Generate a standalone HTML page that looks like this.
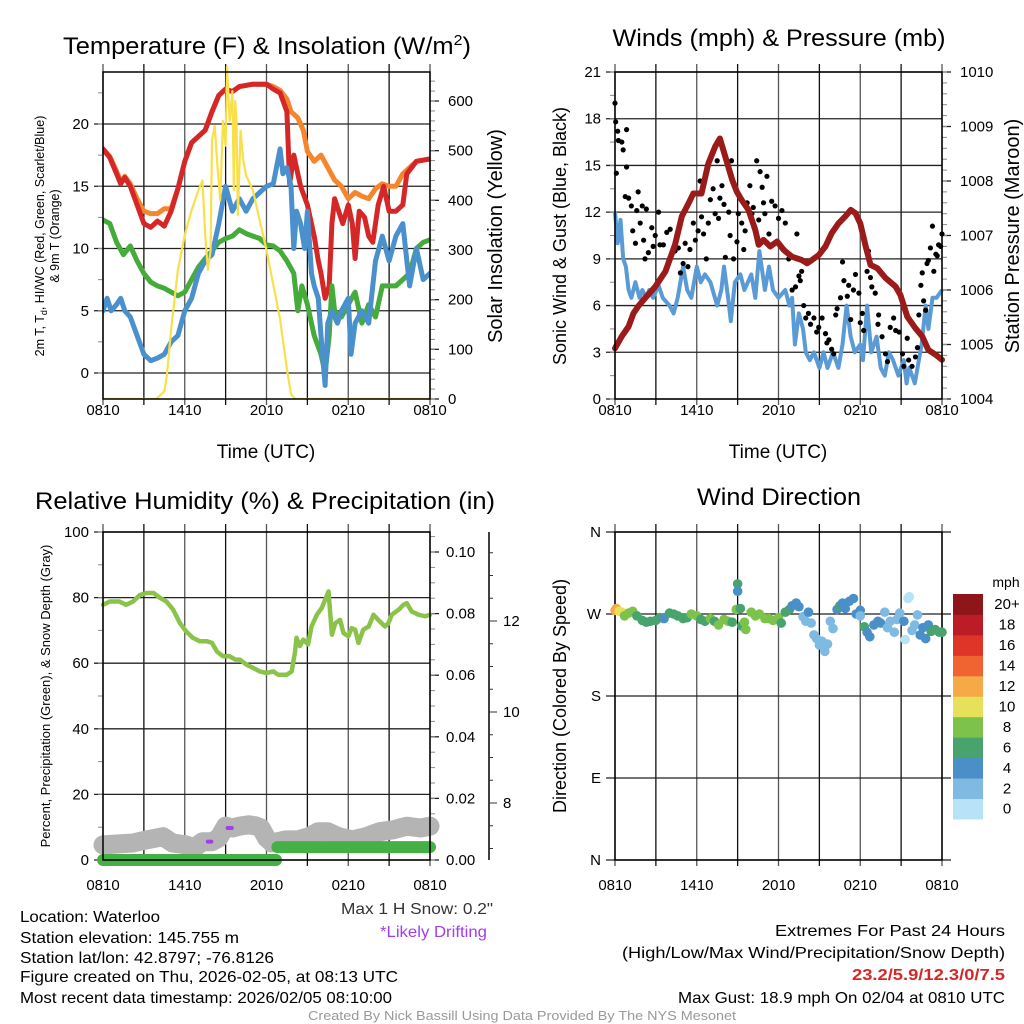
<!DOCTYPE html>
<html><head><meta charset="utf-8">
<style>
html,body{margin:0;padding:0;background:#fff;}
svg{display:block;font-family:"Liberation Sans",sans-serif;}
.narrow{font-family:"Liberation Sans Narrow","Liberation Sans",sans-serif;}
</style></head>
<body>
<svg id="chart" width="1024" height="1024" viewBox="0 0 1024 1024" xmlns="http://www.w3.org/2000/svg">
<rect x="0" y="0" width="1024" height="1024" fill="#fff"/>
<g id="layer"></g>
<!-- titles -->
<text x="267" y="54" font-size="24" text-anchor="middle" textLength="408" lengthAdjust="spacingAndGlyphs">Temperature (F) &amp; Insolation (W/m<tspan dy="-9" font-size="15">2</tspan><tspan dy="9">)</tspan></text>
<text x="779" y="46" font-size="24" text-anchor="middle" textLength="333" lengthAdjust="spacingAndGlyphs">Winds (mph) &amp; Pressure (mb)</text>
<text x="265" y="509" font-size="24" text-anchor="middle" textLength="460" lengthAdjust="spacingAndGlyphs">Relative Humidity (%) &amp; Precipitation (in)</text>
<text x="779" y="505" font-size="24" text-anchor="middle" textLength="164" lengthAdjust="spacingAndGlyphs">Wind Direction</text>
<!-- axis titles -->
<text x="266" y="458" font-size="19" text-anchor="middle">Time (UTC)</text>
<text x="778" y="458" font-size="19" text-anchor="middle">Time (UTC)</text>
<text transform="translate(44,236) rotate(-90)" font-size="12.5" text-anchor="middle">2m T, T<tspan dy="3" font-size="9">d</tspan><tspan dy="-3">, HI/WC (Red, Green, Scarlet/Blue)</tspan></text>
<text transform="translate(59,236) rotate(-90)" font-size="12.5" text-anchor="middle">&amp; 9m T (Orange)</text>
<text transform="translate(502,236) rotate(-90)" font-size="20" text-anchor="middle">Solar Insolation (Yellow)</text>
<text transform="translate(566,236) rotate(-90)" font-size="18" text-anchor="middle">Sonic Wind &amp; Gust (Blue, Black)</text>
<text transform="translate(1019,236) rotate(-90)" font-size="20" text-anchor="middle">Station Pressure (Maroon)</text>
<text transform="translate(50,696) rotate(-90)" font-size="13" text-anchor="middle">Percent, Precipitation (Green), &amp; Snow Depth (Gray)</text>
<text transform="translate(566,696) rotate(-90)" font-size="18" text-anchor="middle">Direction (Colored By Speed)</text>
<!-- info text -->
<g class="narrow" font-size="16">
<text x="20" y="922" textLength="140" lengthAdjust="spacingAndGlyphs">Location: Waterloo</text>
<text x="20" y="943" textLength="219" lengthAdjust="spacingAndGlyphs">Station elevation: 145.755 m</text>
<text x="20" y="963" textLength="254" lengthAdjust="spacingAndGlyphs">Station lat/lon: 42.8797; -76.8126</text>
<text x="20" y="982" textLength="378" lengthAdjust="spacingAndGlyphs">Figure created on Thu, 2026-02-05, at 08:13 UTC</text>
<text x="20" y="1003" textLength="372" lengthAdjust="spacingAndGlyphs">Most recent data timestamp: 2026/02/05 08:10:00</text>
<text x="493" y="914" text-anchor="end" fill="#333" textLength="152" lengthAdjust="spacingAndGlyphs">Max 1 H Snow: 0.2"</text>
<text x="487" y="937" text-anchor="end" fill="#a23ee8" textLength="107" lengthAdjust="spacingAndGlyphs">*Likely Drifting</text>
<text x="1005" y="936" text-anchor="end" textLength="230" lengthAdjust="spacingAndGlyphs">Extremes For Past 24 Hours</text>
<text x="1005" y="958" text-anchor="end" textLength="383" lengthAdjust="spacingAndGlyphs">(High/Low/Max Wind/Precipitation/Snow Depth)</text>
<text x="1005" y="980" text-anchor="end" fill="#d62728" font-weight="bold" textLength="153" lengthAdjust="spacingAndGlyphs">23.2/5.9/12.3/0/7.5</text>
<text x="1005" y="1003" text-anchor="end" textLength="327" lengthAdjust="spacingAndGlyphs">Max Gust: 18.9 mph On 02/04 at 0810 UTC</text>
<text x="522" y="1020" text-anchor="middle" fill="#999" font-size="13" textLength="428" lengthAdjust="spacingAndGlyphs">Created By Nick Bassill Using Data Provided By The NYS Mesonet</text>
</g>
</svg>
<script>
// ---------------- DATA ----------------
const timeLabels=["0810","1410","2010","0210","0810"];
const tempTicks=[0,5,10,15,20];
const insolTicks=[0,100,200,300,400,500,600];
const windTicks=[0,3,6,9,12,15,18,21];
const presTicks=[1004,1005,1006,1007,1008,1009,1010];
const rhTicks=[0,20,40,60,80,100];
const precipTicks=[0.00,0.02,0.04,0.06,0.08,0.10];
const snowTicks=[8,10,12];
const dirTicks=["N","E","S","W","N"];
const speedBins=["0","2","4","6","8","10","12","14","16","18","20+"];

const redT=[0,0.5,1,1.3,1.6,2,2.5,3,3.5,4,4.5,5,5.5,6,6.5,7,7.5,8,8.5,9,9.5,10,11,12,12.5,13,13.5,13.7,14,14.3,14.5,15,15.5,15.8,16,16.3,16.6,16.8,17,17.3,17.6,18,18.3,18.5,18.8,19.2,19.5,19.8,20.2,20.6,21,21.5,22,22.3,23,24];
const redV=[18,17.3,16,15.2,15.7,15,13.5,12,11.7,12.2,11.8,13,14.8,17,18.5,19,19.5,21,22.3,22.8,22.6,23,23.2,23.2,22.8,22.5,21,15.2,17.5,16,15,13.5,11,9,8,6,7,12,14,13,12,13.5,12,9.2,13,12.5,11,10.5,13.5,15,13,13,13.5,16,17,17.2];
const orangeT=[0,0.5,1,1.3,1.6,2,2.5,3,3.5,4,4.5,5,5.5,6,6.5,7,7.5,8,8.5,9,9.5,10,11,12,12.5,13,13.5,13.8,14.3,14.7,15,15.5,16,16.5,17,17.5,18,18.5,19,19.5,20,20.5,21,21.5,22,23,24];
const orangeV=[18,17.4,16.2,15.4,15.8,15.2,14,13,12.8,12.8,13.2,13.2,14.8,17,18.5,19,19.5,21,22.3,22.8,22.6,23,23.2,23.2,23,22.7,22,21,20.5,19.5,17.8,17,17.5,16.5,15.5,15,14,14.5,14.2,14,14.8,15.2,15,15,16,17,17.2];
const greenT=[0,0.5,1,1.5,2,2.5,3,3.5,4,4.5,5,5.5,6,6.5,7,7.5,8,8.5,9,9.5,10,10.5,11,11.5,12,12.5,13,13.5,14,14.3,14.6,15,15.5,16,16.3,16.6,16.8,17,17.5,18,18.5,19,19.5,20,20.5,21,21.5,22,22.5,23,23.5,24];
const greenV=[12.3,12,10.5,9.5,10.2,9,8,7.3,7,6.8,6.5,6.2,6.5,7.5,8.5,9.2,9.8,10.5,10.8,11,11.5,11.2,11,10.8,10.3,10.2,9.8,9,8,5,7,5.5,3,1.5,0,3,7,5,4.5,5.5,6.5,4,5.5,4.5,7,7,7,7.5,8,10,10.5,10.7];
const blueT=[0,0.3,0.6,1,1.3,1.6,2,2.5,3,3.5,4,4.5,5,5.5,6,6.5,7,7.5,8,8.5,9,9.5,10,10.5,11,11.5,12,12.5,13,13.2,13.5,13.8,14,14.2,14.5,14.8,15,15.3,15.5,15.8,16,16.3,16.5,16.8,17.2,17.5,18,18.2,18.5,19,19.5,20,20.5,21,21.5,22,22.5,23,23.5,24];
const blueV=[5,6,5,5.5,6,5,4.5,3,1.5,1,1.2,1.5,2.5,3,5,6,8,9,9.5,12,15,13,14,13,14,14.5,15,15.2,18,16,16.5,15,10,13,12,10,13,8,7,6,3,-1,4,5,4,5,6,1.5,4,5,4,9,11,9,11,12,7,10,7.5,8];
const insolT=[0,3.9,4.5,4.7,5,5.5,6,6.5,7,7.3,7.5,7.7,7.9,8,8.2,8.4,8.6,8.8,9,9.1,9.3,9.5,9.6,9.7,9.8,9.9,10.1,10.3,10.5,11,11.5,12,12.5,13,13.5,13.8,14.1,24];
const insolV=[0,0,15,50,140,260,330,380,420,440,330,260,300,520,550,470,400,560,510,670,560,620,420,600,560,370,540,480,450,420,360,300,230,160,60,10,0,0];

const windT=[0,0.2,0.4,0.6,0.8,1,1.2,1.5,1.8,2,2.3,2.5,2.8,3.2,3.5,4,4.3,4.6,5,5.3,5.6,6,6.3,6.6,7,7.5,7.8,8,8.3,8.5,8.8,9.2,9.5,10,10.3,10.6,11,11.3,11.6,12,12.5,12.8,13,13.2,13.5,13.8,14,14.3,14.6,15,15.3,15.6,16,16.4,16.7,17,17.3,17.6,18,18.2,18.5,18.8,19.2,19.5,19.8,20.1,20.4,20.8,21.2,21.4,21.6,22,22.5,22.8,23,23.3,23.6,24];
const windV=[12,10,11.5,9,8.5,7,6.5,7.5,6.5,7,6.5,7,6.5,7.3,6.5,6,5.5,6.5,8.5,7,6.5,8.5,7.5,8,7.5,6,7,8.5,6.5,5,7.5,8,7,8,6.5,9.5,7,8.5,7,6.5,7,6,6.5,3.5,5.5,4.5,3,2.5,3,2,3,2,3,2,3.5,6,4,3,3.5,2.5,6,3,4,2,1.5,3,2.5,1.5,2.5,1,2,1,3.5,6,4.5,6.5,6.5,7];
const gustT=[0,0.05,0.1,0.2,0.25,0.5,0.6,0.75,0.85,0.85,1,1.2,1.3,1.5,1.6,1.7,1.85,2,2.1,2.2,2.3,2.45,2.7,2.8,2.95,3.2,3.3,3.55,3.8,4.05,4.4,4.65,4.8,5,5.15,5.35,5.5,5.75,5.9,6.1,6.25,6.35,6.5,6.7,6.85,7,7.2,7.35,7.5,7.6,7.7,7.85,8,8.1,8.35,8.45,8.55,8.7,8.95,9.05,9.3,9.45,9.55,9.7,9.9,10.05,10.15,10.4,10.55,10.65,10.8,10.9,11,11.15,11.3,11.5,11.75,12,12.25,12.4,12.5,12.75,13,13.25,13.35,13.5,13.6,13.7,13.85,14,14.2,14.35,14.6,14.8,14.95,15.2,15.45,15.55,15.7,15.9,16.05,16.2,16.3,16.55,16.7,16.8,17.05,17.15,17.3,17.5,17.65,17.9,18,18.15,18.25,18.5,18.6,18.75,18.85,19.1,19.3,19.35,19.6,19.85,20,20.2,20.45,20.6,20.85,21.1,21.2,21.45,21.55,21.8,22.05,22.2,22.3,22.45,22.55,22.65,22.8,22.9,23,23.15,23.3,23.4,23.55,23.65,23.75,23.9,24];
const gustV=[19,17.8,14.5,17.2,16.6,16.5,16,13,14.9,17.3,12.9,12.4,10.8,10,12.1,13.3,11.3,12.4,10.2,9,12.2,9.4,11,9.8,10.5,12,9.9,9.9,10.7,10.9,9.5,9.7,8.1,8.7,10,8.5,9.6,11.3,10.2,10.8,14,11.7,10.6,9,11.3,12.8,13.5,11.9,15.3,11.6,12.9,13.7,12.5,9.1,12,10.5,15.3,9,10.1,11.9,11.3,9.6,10.8,12.6,13.7,11.9,12.3,15.3,11.5,14.6,13.6,12.6,11.9,14.3,10.6,12.7,12.4,11.6,12.1,9.6,11.3,9,7,7.2,10.6,7.9,7.6,8.2,6,5.2,5.5,4.8,5.2,4.3,4.6,5.2,4.2,3.6,3.8,3.2,2.9,5.4,5.8,6.5,8.8,7.6,6.6,7.3,5.1,7,8,6.8,4.9,5.5,4.4,8.2,9.5,7.8,7.2,6.8,4.8,5.4,4,2.9,2.4,4.6,5.2,4.4,4.3,2.9,2.1,3.9,2.5,2.1,2.7,3.3,5.4,7.3,8.1,6.3,5.7,8.7,8.9,9.7,11.1,8.2,9.3,9.2,9.9,9.8,10.6];
const presT=[0,0.5,1,1.35,1.7,2.2,2.95,3.7,4.4,4.9,5.4,5.75,6.35,6.85,7.35,7.7,8.1,8.6,8.95,9.3,9.8,10.3,10.55,10.9,11.4,11.9,12.4,13,13.7,14.1,14.45,14.95,15.45,15.9,16.4,16.9,17.3,17.65,18,18.4,18.75,19.25,19.85,20.6,20.95,21.45,22.05,22.55,23,23.55,24];
const presV=[1004.93,1005.15,1005.33,1005.57,1005.7,1005.85,1006.06,1006.34,1006.83,1007.35,1007.59,1007.77,1007.77,1008.32,1008.63,1008.78,1008.44,1008.02,1007.8,1007.65,1007.47,1007.1,1006.83,1006.92,1006.8,1006.89,1006.73,1006.61,1006.55,1006.49,1006.55,1006.64,1006.8,1007.04,1007.22,1007.35,1007.47,1007.41,1007.22,1006.8,1006.46,1006.4,1006.22,1006.06,1005.91,1005.51,1005.3,1005.15,1004.9,1004.81,1004.72];

const rhT=[0,0.5,1.2,1.7,2.2,2.7,3.2,3.7,4.2,4.65,5.15,5.65,6.1,6.6,7.1,7.6,8,8.35,8.8,9.3,9.7,10.05,10.55,11.05,11.5,12,12.5,12.85,13.5,13.85,14.1,14.2,14.45,14.7,15.05,15.3,15.7,16.05,16.3,16.55,16.8,17.05,17.4,17.65,18,18.25,18.5,18.75,19.1,19.5,19.85,20.2,20.7,20.95,21.2,21.7,22.05,22.3,22.65,23.15,23.65,24];
const rhV=[77.8,78.8,78.8,77.8,78.8,80.8,81.4,81.4,79.9,78.8,76.3,72.2,69.7,67.7,66.7,66.7,66.2,63.6,62.1,62.1,61.1,61.1,59.5,58.5,57.5,57,57.5,56.5,56.5,57.5,63.6,67.7,65.2,67.2,65.7,71.2,74.8,76.8,79.3,81.9,68.7,72.2,73.2,69.2,68.2,70.7,70.2,66.2,70.2,71.2,74.8,73.2,71.2,72.2,74.8,76.3,77.8,78.3,75.8,74.8,74.3,74.8];
const precipT=[0,12.7,12.8,24];
const precipV=[0,0,0.0042,0.0042];
const snowT=[0,2.2,3.2,4.4,5.1,6.1,6.7,7.3,8.0,8.5,9.0,9.5,10,10.7,11.2,11.6,12.0,12.4,13.4,14.3,15.1,15.8,16.5,17.3,18.3,19.3,20.3,21.3,22.3,23.3,24];
const snowV=[7.08,7.12,7.19,7.26,7.12,7.08,7.01,7.15,7.15,7.23,7.49,7.45,7.49,7.52,7.5,7.45,7.23,7.12,7.19,7.19,7.26,7.37,7.37,7.26,7.19,7.26,7.37,7.41,7.49,7.45,7.49];
const driftT=[7.7,7.95,9.15,9.45];
const driftV=[7.15,7.15,7.45,7.45];

const dirT=[0,0.1,0.3,0.5,0.7,1,1.3,1.6,2,2.3,2.6,3,3.3,3.6,4,4.3,4.6,5,5.3,5.6,6,6.3,6.6,7,7.3,7.6,8,8.3,8.6,8.9,9,9,9.2,9.3,9.5,9.6,10,10.3,10.6,11,11.3,11.6,12,12.2,12.5,12.8,13,13.3,13.5,13.8,14,14.2,14.4,14.6,14.8,15,15.2,15.4,15.6,15.8,16,16.3,16.5,16.7,16.9,17.2,17.5,17.7,18,18,18.3,18.5,18.7,19,19.3,19.5,19.8,20,20.2,20.5,20.7,20.9,21.2,21.3,21.5,21.6,21.8,22,22.2,22.4,22.6,22.8,23,23.2,23.5,23.8,24];
const dirV=[274,276,273,272,268,271,273,268,263,261,262,263,266,265,271,270,268,265,266,270,268,264,262,265,262,258,264,262,261,275,303,295,276,257,261,253,272,268,270,265,265,263,266,260,272,275,279,282,278,267,262,272,260,247,243,236,240,229,237,262,254,275,279,282,276,284,287,270,274,268,256,250,245,258,262,260,272,255,262,250,264,271,262,242,287,289,252,258,269,247,255,243,258,251,253,250,250];
const dirS=[12,12,11,10,8,8,8,7,6,6,6,6,6,5,6,6,6,6,6,8,8,6,7,8,7,8,8,8,6,8,6,4,6,6,8,8,8,8,8,8,8,8,8,6,6,6,4,4,4,2,2,4,2,2,2,2,2,2,2,2,2,4,6,4,4,4,4,4,4,2,6,4,4,4,4,4,2,2,2,2,2,2,4,1,0,0,2,2,2,4,4,4,4,6,6,6,6];

// ---------------- DRAWING ----------------
const NS='http://www.w3.org/2000/svg';
const layer=document.getElementById('layer');
function mk(tag,attrs,parent){const e=document.createElementNS(NS,tag);for(const k in attrs)e.setAttribute(k,attrs[k]);(parent||layer).appendChild(e);return e;}
function lin(d0,d1,r0,r1){return v=>r0+(v-d0)*(r1-r0)/(d1-d0);}
const binColors=["#b8e3f7","#7fbae3","#4a8fc7","#48a36c","#7dc24b","#e6e05a","#f5a947","#ef6431","#df3428","#bc1c26","#8e1619"];

function panelFrame(X0,X1,Y0,Y1,labY){
  const tx=lin(0,24,X0,X1);
  for(let h=0;h<=24;h+=3){
    const l=mk('line',{x1:tx(h),x2:tx(h),y1:Y0-8,y2:Y1+6,stroke:(h%6===0)?'#555':'#111','stroke-width':1.3});
    
    
  }
  for(let i=0;i<timeLabels.length;i++){
    const t=mk('text',{x:tx(i*6),y:labY,'font-size':15,'text-anchor':'middle'});
    t.textContent=timeLabels[i];
    
    
  }
  return tx;
}
function leftAxis(X0,X1,Y0,Y1,ty,ticks,labels,minorStep,minV,maxV){
  for(let i=0;i<ticks.length;i++){
    const y=ty(ticks[i]);
    const l=mk('line',{x1:X0-9,x2:X1,y1:y,y2:y,stroke:'#222','stroke-width':1.3});
    
    
    const t=mk('text',{x:X0-14,y:y+5,'font-size':15,'text-anchor':'end'});
    t.textContent=labels[i];
    
    
  }
  if(minorStep){for(let v=minV;v<=maxV+1e-9;v+=minorStep){const y=ty(v);
    const m=mk('line',{x1:X0-5,x2:X0,y1:y,y2:y,stroke:'#888','stroke-width':1});
    
    }}
}
function rightAxis(X1,ty,ticks,labels,minorStep,minV,maxV,lx){
  for(let i=0;i<ticks.length;i++){
    const y=ty(ticks[i]);
    const l=mk('line',{x1:X1,x2:X1+9,y1:y,y2:y,stroke:'#222','stroke-width':1.3});
    
    
    const t=mk('text',{x:lx,y:y+5,'font-size':15});
    t.textContent=labels[i];
    
    
  }
  for(let v=minV;v<=maxV+1e-9;v+=minorStep){const y=ty(v);
    const m=mk('line',{x1:X1,x2:X1+5,y1:y,y2:y,stroke:'#888','stroke-width':1});
    
    }
}
function border(X0,X1,Y0,Y1){
  const r=mk('rect',{x:X0,y:Y0,width:X1-X0,height:Y1-Y0,fill:'none',stroke:'#000','stroke-width':1.5});
  
  
}
function pathOf(T,V,tx,ty){return T.map((t,i)=>(i?'L':'M')+tx(t).toFixed(1)+','+ty(V[i]).toFixed(1)).join('');}
function clip(id,X0,X1,Y0,Y1){const defs=mk('defs',{});const c=mk('clipPath',{id:id},defs);mk('rect',{x:X0,y:Y0,width:X1-X0,height:Y1-Y0},c);}

// ===== Panel 1: temperature =====
{
  const X0=103,X1=430,Y0=72,Y1=399;
  const tx=panelFrame(X0,X1,Y0,Y1,415);
  const ty=lin(0,20,373,124);
  const tyR=lin(0,600,399,101);
  leftAxis(X0,X1,Y0,Y1,ty,tempTicks,tempTicks.map(String),2.5,-0,22.5);
  rightAxis(X1,tyR,insolTicks,insolTicks.map(String),20,0,640,448);
  clip('c1',X0,X1,Y0-6,Y1);
  const g=mk('g',{'clip-path':'url(#c1)'});
  const orange=mk('path',{d:pathOf(orangeT,orangeV,tx,ty),fill:'none',stroke:'#f5862e','stroke-width':5,'stroke-linejoin':'round','stroke-linecap':'round'},g);
  
  
  const red=mk('path',{d:pathOf(redT,redV,tx,ty),fill:'none',stroke:'#d62728','stroke-width':5,'stroke-linejoin':'round','stroke-linecap':'round'},g);
  
  
  const green=mk('path',{d:pathOf(greenT,greenV,tx,ty),fill:'none',stroke:'#45ab3a','stroke-width':5,'stroke-linejoin':'round','stroke-linecap':'round'},g);
  
  
  const blue=mk('path',{d:pathOf(blueT,blueV,tx,ty),fill:'none',stroke:'#4a90cc','stroke-width':5,'stroke-linejoin':'round','stroke-linecap':'round'},g);
  
  
  const yel=mk('path',{d:pathOf(insolT,insolV,tx,tyR),fill:'none',stroke:'#f9e04b','stroke-width':2.2,'stroke-linejoin':'round'},g);
  
  
  border(X0,X1,Y0,Y1);
}
// ===== Panel 2: wind & pressure =====
{
  const X0=615,X1=942,Y0=72,Y1=399;
  const tx=panelFrame(X0,X1,Y0,Y1,415);
  const ty=lin(0,21,399,72);
  const tyR=lin(1004,1010,399,72);
  leftAxis(X0,X1,Y0,Y1,ty,windTicks,windTicks.map(String),1.5,0,21);
  rightAxis(X1,tyR,presTicks,presTicks.map(String),0.2,1004,1010,960);
  clip('c2',X0-4,X1+4,Y0,Y1);
  const g=mk('g',{'clip-path':'url(#c2)'});
  const wl=mk('path',{d:pathOf(windT,windV,tx,ty),fill:'none',stroke:'#5a9bd5','stroke-width':4,'stroke-linejoin':'round'},g);
  
  
  for(let i=0;i<gustT.length;i++){
    const c=mk('circle',{cx:tx(gustT[i]),cy:ty(gustV[i]),r:2.6,fill:'#000'},g);
    
    
  }
  const pl=mk('path',{d:pathOf(presT,presV,tx,tyR),fill:'none',stroke:'#9b1b1b','stroke-width':6,'stroke-linejoin':'round','stroke-linecap':'round'},g);
  
  
  border(X0,X1,Y0,Y1);
}
// ===== Panel 3: RH & precip =====
{
  const X0=103,X1=430,Y0=532,Y1=860;
  const tx=panelFrame(X0,X1,Y0,Y1,890);
  const ty=lin(0,100,860,532);
  const tyP=lin(0,0.1,860,552);
  const tyS=lin(8,10,803,712);
  leftAxis(X0,X1,Y0,Y1,ty,rhTicks,rhTicks.map(String),10,0,100);
  rightAxis(X1,tyP,precipTicks,precipTicks.map(v=>v.toFixed(2)),0.005,0,0.105,446);
  const ax=mk('line',{x1:489,x2:489,y1:532,y2:860,stroke:'#000','stroke-width':1.5});
  
  
  for(let v=7;v<=13.51;v+=0.5){const y=tyS(v);const maj=snowTicks.indexOf(v)>=0;
    const tk=mk('line',{x1:489,x2:489+(maj?8:4),y1:y,y2:y,stroke:'#333','stroke-width':1});
    
    
    if(maj){const t=mk('text',{x:503,y:y+5,'font-size':15});t.textContent=String(v);
      
      }}
  clip('c3',X0-14,X1+14,Y0,Y1+12);
  const g=mk('g',{'clip-path':'url(#c3)'});
  const sn=mk('path',{d:pathOf(snowT,snowV,tx,tyS),fill:'none',stroke:'#b4b4b4','stroke-width':19,'stroke-linejoin':'round','stroke-linecap':'round'},g);
  
  
  const pr=mk('path',{d:'M'+tx(precipT[0])+','+tyP(precipV[0])+'L'+tx(precipT[1])+','+tyP(precipV[1])+'M'+tx(precipT[2])+','+tyP(precipV[2])+'L'+tx(precipT[3])+','+tyP(precipV[3]),fill:'none',stroke:'#45b045','stroke-width':12,'stroke-linecap':'round'},g);
  
  
  for(let i=0;i<driftT.length;i+=2){
    const d=mk('line',{x1:tx(driftT[i]),x2:tx(driftT[i+1]),y1:tyS(driftV[i]),y2:tyS(driftV[i+1]),stroke:'#a23ee8','stroke-width':4,'stroke-linecap':'round'},g);
    
    
  }
  const rh=mk('path',{d:pathOf(rhT,rhV,tx,ty),fill:'none',stroke:'#8bc34a','stroke-width':4.5,'stroke-linejoin':'round','stroke-linecap':'round'},g);
  
  
  border(X0,X1,Y0,Y1);
}
// ===== Panel 4: wind direction =====
{
  const X0=615,X1=942,Y0=532,Y1=860;
  const tx=panelFrame(X0,X1,Y0,Y1,890);
  const ty=lin(0,360,860,532);
  leftAxis(X0,X1,Y0,Y1,ty,[0,90,180,270,360],dirTicks,0,0,0);
  for(const v of [0,90,180,270,360]){const y=ty(v);
    const tk=mk('line',{x1:X1,x2:X1+9,y1:y,y2:y,stroke:'#222','stroke-width':1.3});
    
    }
  border(X0,X1,Y0,Y1);
  for(let i=0;i<dirT.length;i++){
    const bi=Math.min(10,Math.floor(dirS[i]/2));
    const c=mk('circle',{cx:tx(dirT[i]),cy:ty(dirV[i]),r:4.8,fill:binColors[bi]});
    
    
  }
  const h=20.45;
  for(let i=0;i<speedBins.length;i++){
    const y=594+(10-i)*h;
    const r=mk('rect',{x:953,y:y,width:30,height:h+0.5,fill:binColors[i]});
    
    
    const t=mk('text',{x:1007,y:y+h/2+5,'font-size':15,'text-anchor':'middle'});
    t.textContent=speedBins[i];
    
    
  }
  const u=mk('text',{x:1006,y:587,'font-size':14,'text-anchor':'middle'});
  u.textContent='mph';
  
  
}
</script>
</body></html>
